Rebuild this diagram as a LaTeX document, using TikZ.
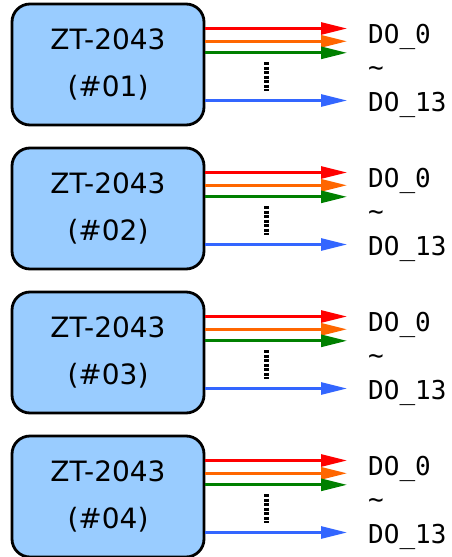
\documentclass[tikz,border=0pt]{standalone}
\usepackage{fontspec}
\setmainfont{DejaVu Sans}
\newfontfamily\monofam{DejaVu Sans Mono}
\usetikzlibrary{arrows.meta}
\definecolor{boxfill}{RGB}{153,204,255}
\definecolor{cred}{RGB}{255,0,0}
\definecolor{corange}{RGB}{255,102,0}
\definecolor{cgreen}{RGB}{0,128,0}
\definecolor{cblue}{RGB}{51,102,255}
\tikzset{
  ztbox/.style={draw=black, line width=2.8pt, fill=boxfill, rounded corners=18pt,
    minimum width=192pt, minimum height=121pt, inner sep=0pt, align=center,
    font=\fontsize{28}{47}\selectfont},
  sig/.style={line width=2.8pt, -{Triangle[length=26pt,width=12pt]}},
  dotline/.style={line width=4.5pt, dash pattern=on 3.2pt off 1.3pt},
  lbl/.style={font=\monofam\fontsize{26}{30}\selectfont, inner sep=0pt, anchor=base west},
}
\begin{document}
\begin{tikzpicture}[x=1pt,y=-1pt]
\useasboundingbox (0,0) rectangle (451,557);
\foreach \i/\n in {0/01,1/02,2/03,3/04}{
  \pgfmathsetmacro{\dy}{144*\i}
  \node[ztbox] (box\i) at (108,64.5+\dy) {ZT-2043\\(\#\n)};
  \coordinate (ta\i) at (347,28.5+\dy);
  \coordinate (tb\i) at (347,41.3+\dy);
  \coordinate (tc\i) at (347,52.8+\dy);
  \coordinate (td\i) at (347,100.5+\dy);
  \draw[sig, cred] (box\i.east |- ta\i) -- (ta\i);
  \draw[sig, corange] (box\i.east |- tb\i) -- (tb\i);
  \draw[sig, cgreen] (box\i.east |- tc\i) -- (tc\i);
  \draw[sig, cblue] (box\i.east |- td\i) -- (td\i);
  \coordinate (da\i) at (266.5,62+\dy);
  \coordinate (db\i) at (266.5,91+\dy);
  \draw[dotline] (da\i) -- (db\i);
  \node[lbl] (lo\i) at (368,43+\dy) {DO\_0};
  \node[lbl] (tl\i) at (368,76+\dy) {\textasciitilde};
  \node[lbl] (hi\i) at (368,111+\dy) {DO\_13};
}
\end{tikzpicture}
\end{document}
